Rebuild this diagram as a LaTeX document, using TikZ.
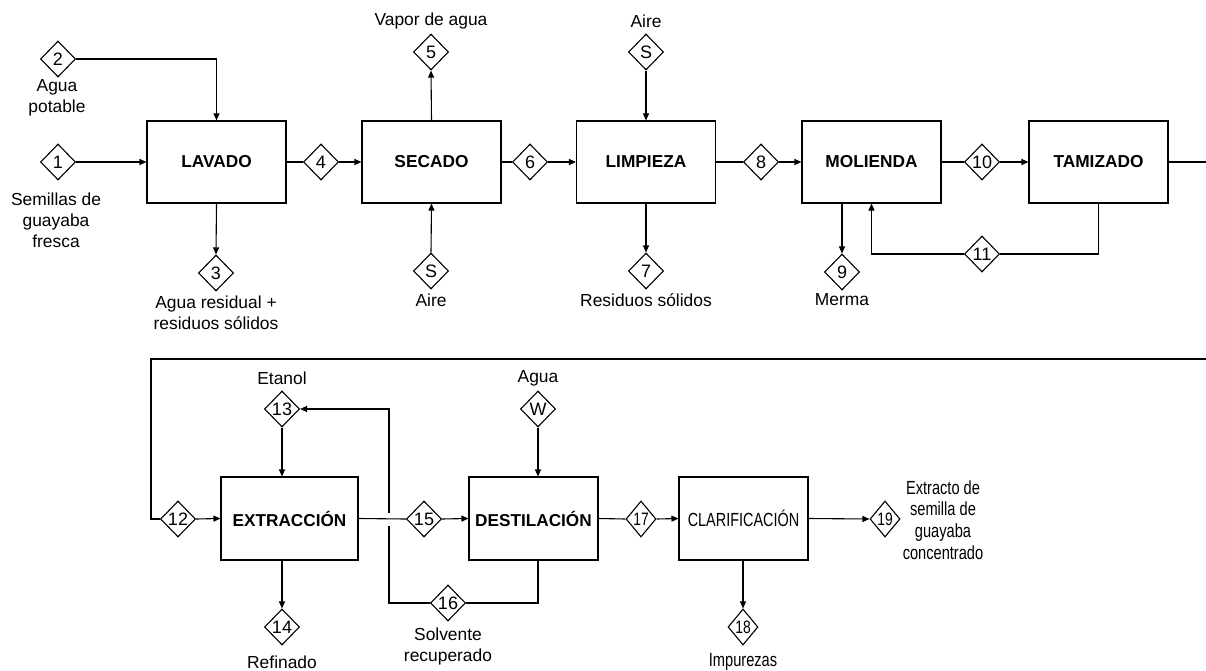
\documentclass[tikz,border=0pt]{standalone}
\usepackage{fontspec}
\setmainfont{Liberation Sans}
\usetikzlibrary{shapes.geometric,arrows.meta}
\newcommand{\cnd}[1]{\scalebox{0.77}[1]{#1}}
\begin{document}
\begin{tikzpicture}[x=1pt,y=-1pt,
  line width=1.1pt,
  proc/.style={draw, minimum width=139pt, minimum height=82pt, inner sep=0pt, font=\fontsize{17.3}{20}\selectfont\bfseries},
  procb/.style={draw, minimum height=83pt, inner sep=0pt, font=\fontsize{17.2}{20}\selectfont\bfseries},
  strm/.style={draw, diamond, fill=white, minimum width=35pt, minimum height=36pt, inner sep=0pt, font=\fontsize{18}{18}\selectfont},
  strms/.style={strm, minimum width=30pt},
  lbl/.style={align=center, inner sep=0pt, font=\fontsize{17.4}{21}\selectfont},
  lblc/.style={align=center, inner sep=0pt, font=\fontsize{19}{21.7}\selectfont},
  arr/.style={-{Triangle[length=7pt,width=6pt]}}
]
\useasboundingbox (0,0) rectangle (1206,671);

% top row process boxes
\node[proc] (lav) at (216.5,162) {LAVADO};
\node[proc] (sec) at (431.5,162) {SECADO};
\node[proc] (lim) at (646,162) {LIMPIEZA};
\node[proc] (mol) at (871.5,162) {MOLIENDA};
\node[proc] (tam) at (1098.5,162) {TAMIZADO};

% bottom row process boxes
\node[procb, minimum width=137pt] (ext) at (289.5,518.5) {EXTRACCIÓN};
\node[procb, minimum width=129pt] (des) at (533.5,518.5) {DESTILACIÓN};
\node[procb, minimum width=129pt, font=\fontsize{19}{20}\selectfont] (cla) at (743.5,518.5) {\scalebox{0.76}[1]{CLARIFICACIÓN}};

% streams top
\node[strm] (d1) at (58,162) {1};
\node[strm] (d2) at (58,59) {2};
\node[strm] (d3) at (216,273) {3};
\node[strm] (d4) at (321,162) {4};
\node[strm] (d5) at (431,52) {5};
\node[strm] (ds1) at (431,271) {S};
\node[strm] (d6) at (530,162) {6};
\node[strm] (ds2) at (646,52) {S};
\node[strm] (d7) at (646,271) {7};
\node[strm] (d8) at (761,162) {8};
\node[strm] (d9) at (842,272) {9};
\node[strm] (d10) at (982,162) {10};
\node[strm] (d11) at (982,254) {11};

% streams bottom
\node[strm] (d12) at (178,519) {12};
\node[strm] (d13) at (282,409) {13};
\node[strm] (d14) at (282,627) {14};
\node[strm] (d15) at (424,519) {15};
\node[strm] (dw) at (538,409) {W};
\node[strm] (d16) at (448,603) {16};
\node[strms] (d17) at (641,519) {\cnd{17}};
\node[strms] (d18) at (743,627) {\cnd{18}};
\node[strms] (d19) at (885,519) {\cnd{19}};

% labels
\node[lbl] (l2) at (57,98) {Agua\\potable};
\node[lbl] (l1) at (56,220) {Semillas de\\guayaba\\fresca};
\node[lbl] (l3) at (216,313) {Agua residual +\\residuos sólidos};
\node[lbl] (l5) at (431,21) {Vapor de agua};
\node[lbl] (ls1) at (431,300) {Aire};
\node[lbl] (ls2) at (646,21) {Aire};
\node[lbl] (l7) at (646,300) {Residuos sólidos};
\node[lbl] (l9) at (842,300) {Merma};
\node[lbl] (l13) at (282,378) {Etanol};
\node[lbl] (lw) at (538,378) {Agua};
\node[lbl] (l14) at (282,662) {Refinado};
\node[lbl] (l16) at (448,646) {Solvente\\recuperado};
\node[lblc] (l18) at (743,662) {\cnd{Impurezas}};
\node[lblc] (l19) at (943,520) {\cnd{Extracto de}\\\cnd{semilla de}\\\cnd{guayaba}\\\cnd{concentrado}};

% coordinates
\coordinate (r1) at (1206,162);
\coordinate (r2) at (1206,359);
\coordinate (c1) at (151,359);
\coordinate (c2) at (538,603);
\coordinate (c3) at (389,603);
\coordinate (c4) at (389,409);
\coordinate (g1) at (389,526);
\coordinate (g2) at (389,513);

% top connectors
\draw[arr] (d1.east) -- (lav.west);
\draw[arr] (d2.east) -| (lav.north);
\draw[arr] (lav.south) -- (d3.north);
\draw (lav.east) -- (d4.west);
\draw[arr] (d4.east) -- (sec.west);
\draw[arr] (sec.north) -- (d5.south);
\draw[arr] (ds1.north) -- (sec.south);
\draw (sec.east) -- (d6.west);
\draw[arr] (d6.east) -- (lim.west);
\draw[arr] (ds2.south) -- (lim.north);
\draw[arr] (lim.south) -- (d7.north);
\draw (lim.east) -- (d8.west);
\draw[arr] (d8.east) -- (mol.west);
\draw[arr] (d9.north |- mol.south) -- (d9.north);
\draw (mol.east) -- (d10.west);
\draw[arr] (d10.east) -- (tam.west);
\draw (tam.south) |- (d11.east);
\draw[arr] (d11.west) -| (mol.south);
\draw (tam.east) -- (r1);

% bottom connectors
\draw (r2) -- (c1) |- (d12.west);
\draw[arr] (d12.east) -- (ext.west);
\draw[arr] (d13.south) -- (d13.south |- ext.north);
\draw[arr] (d14.north |- ext.south) -- (d14.north);
\draw (ext.east) -- (d15.west);
\draw[arr] (d15.east) -- (des.west);
\draw[arr] (dw.south) -- (dw.south |- des.north);
\draw (dw.south |- des.south) -- (c2) -- (d16.east);
\draw (d16.west) -- (c3) -- (g1);
\draw[arr] (g2) -- (c4) -- (d13.east);
\draw (des.east) -- (d17.west);
\draw[arr] (d17.east) -- (cla.west);
\draw[arr] (d18.north |- cla.south) -- (d18.north);
\draw[arr] (cla.east) -- (d19.west);
\end{tikzpicture}
\end{document}
